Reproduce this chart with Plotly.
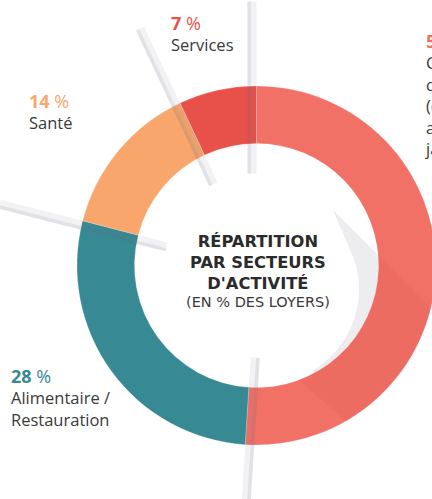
import math
import plotly.graph_objects as go

# ---- data (listed counter-clockwise from 12 o'clock, as in the reference) ----
sectors = ["Services", "Santé", "Alimentaire / Restauration", "Commerce de détail"]
shares = [7, 14, 28, 51]
colors = ["#E8514A", "#F8A66B", "#378993", "#F27167"]
label_lines = [
    ["Services"],
    ["Santé"],
    ["Alimentaire /", "Restauration"],
    ["Commerce", "de détail", "(équipement,", "ameublement,", "jardinerie)"],
]
title_lines = ["RÉPARTITION", "PAR SECTEURS", "D'ACTIVITÉ"]
subtitle = "(EN % DES LOYERS)"

# ---- layout constants (pixels) ----
W, H = 440, 499            # canvas slightly wider than the 432px window: the ring is cut at right
CX, CY, R_OUT = 256.5, 265.5, 179.5
HOLE = 0.68
R_IN = R_OUT * HOLE
FONT = "Open Sans, Noto Sans, sans-serif"
TFONT = "DejaVu Sans, sans-serif"
TXT = "#3a3a3a"


def px(x):
    return x / W


def py(y):
    return 1 - y / H


def path_of(points):
    return "M " + " L ".join(f"{px(x):.5f},{py(y):.5f}" for x, y in points) + " Z"


fig = go.Figure()
# plotly draws clockwise from 12 o'clock; feed the slices in reverse so they read
# counter-clockwise from 12 o'clock like the reference
fig.add_trace(go.Pie(
    labels=sectors[::-1],
    values=shares[::-1],
    marker=dict(colors=colors[::-1], line=dict(color="rgba(255,255,255,0.4)", width=0.5)),
    hole=HOLE,
    sort=False,
    direction="clockwise",
    rotation=0,
    textinfo="none",
    hoverinfo="label+percent",
    domain=dict(x=[px(CX - R_OUT), px(CX + R_OUT)], y=[py(CY + R_OUT), py(CY - R_OUT)]),
    showlegend=False,
))


# ---- decorative "fold" shadows along slice boundaries ----
def pt(r, theta, off=0.0):
    """theta in degrees, counter-clockwise from 12 o'clock; off = offset on the CCW side."""
    t = math.radians(theta)
    dx, dy = -math.sin(t), -math.cos(t)
    ox, oy = -math.cos(t), math.sin(t)
    return (CX + r * dx + off * ox, CY + r * dy + off * oy)


cum = 0
bounds = []
for s in shares[:-1]:
    bounds.append(cum)
    cum += s
bounds.append(cum)
R_END = 264
for b in bounds:
    th = b / 100 * 360
    band = [pt(92, th, 0), pt(R_END, th, 0), pt(R_END, th, 9), pt(92, th, 9)]
    fig.add_shape(type="path", path=path_of(band), xref="paper", yref="paper",
                  fillcolor="rgba(110,110,135,0.09)", line=dict(width=0), layer="above")
    edge = [pt(92, th, 5.5), pt(R_END, th, 5.5), pt(R_END, th, 9), pt(92, th, 9)]
    fig.add_shape(type="path", path=path_of(edge), xref="paper", yref="paper",
                  fillcolor="rgba(110,110,135,0.12)", line=dict(width=0), layer="above")


# diagonal fold in the large segment
def hit(r, p0=(333.0, 210.0)):
    a = p0[0] - CX
    b = p0[1] - CY
    A2, B2, C2 = 2.0, 2 * (a + b), a * a + b * b - r * r
    t = (-B2 + math.sqrt(B2 * B2 - 4 * A2 * C2)) / (2 * A2)
    return (p0[0] + t, p0[1] + t)


Apt = hit(R_IN)
Bpt = hit(R_OUT)
phiA = math.degrees(math.atan2(Apt[1] - CY, Apt[0] - CX))
phiB = math.degrees(math.atan2(Bpt[1] - CY, Bpt[0] - CX))


def arc(r, a0, a1, n=24):
    return [(CX + r * math.cos(math.radians(a0 + (a1 - a0) * i / n)),
             CY + r * math.sin(math.radians(a0 + (a1 - a0) * i / n))) for i in range(n + 1)]


dark = [Apt, Bpt] + arc(R_OUT, phiB, 60) + arc(R_IN, 70, phiA)
fig.add_shape(type="path", path=path_of(dark), xref="paper", yref="paper",
              fillcolor="rgba(150,40,40,0.06)", line=dict(width=0), layer="above")

cres = [(333.0, 210.0)] + arc(R_IN, phiA, 62)
n = 20
for i in range(n + 1):
    a = 62 + (phiA - 62) * i / n
    r = R_IN - 3 - 22 * (i / n) ** 1.5
    cres.append((CX + r * math.cos(math.radians(a)), CY + r * math.sin(math.radians(a))))
fig.add_shape(type="path", path=path_of(cres), xref="paper", yref="paper",
              fillcolor="rgba(110,110,135,0.12)", line=dict(width=0), layer="above")

# ---- sector labels (percent line + name lines in one block) ----
label_pos = [(169, 9), (27, 87), (9, 362), (423, 27)]
for (x, y), val, col, lines in zip(label_pos, shares, colors, label_lines):
    text = (f"<span style='font-size:18px;color:{col}'><b>{val}</b> %</span><br>"
            + "<br>".join(lines))
    fig.add_annotation(
        x=px(x), y=py(y), xref="paper", yref="paper",
        xanchor="left", yanchor="top", showarrow=False, align="left",
        text=text,
        font=dict(family=FONT, size=16.5, color=TXT),
    )

# ---- centre title ----
fig.add_annotation(
    x=px(258), y=py(230), xref="paper", yref="paper",
    xanchor="center", yanchor="top", showarrow=False, align="center",
    text="<b>" + "<br>".join(title_lines) + "</b>",
    font=dict(family=TFONT, size=16.3, color="#2b2b2b"),
)
fig.add_annotation(
    x=px(258), y=py(302), xref="paper", yref="paper",
    xanchor="center", yanchor="middle", showarrow=False,
    text=subtitle,
    font=dict(family=TFONT, size=14.5, color="#3a3a3a"),
)

fig.update_layout(
    width=W, height=H,
    margin=dict(l=0, r=0, t=0, b=0),
    paper_bgcolor="white", plot_bgcolor="white",
)

fig.write_html(
    "out.html",
    config={"displayModeBar": False},
    post_script="document.body.style.margin='0';document.body.style.overflow='hidden';",
)
